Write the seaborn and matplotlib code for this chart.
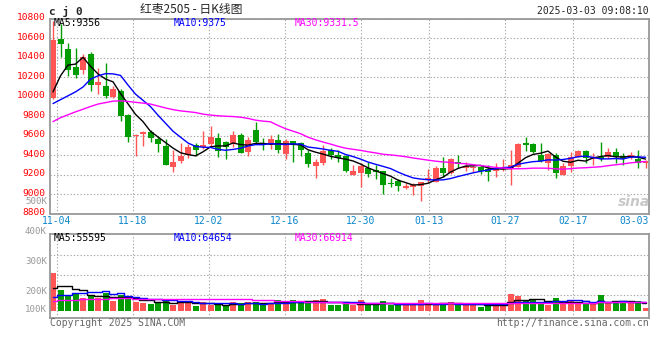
import numpy as np
import pandas as pd
import matplotlib
matplotlib.use("Agg")
import matplotlib.pyplot as plt
import matplotlib.transforms as mtransforms
import seaborn as sns

# ---------------- data ----------------
opens = [9984, 10593, 10494, 10309, 10278, 10439, 10124, 10110, 9998, 10059,
         9813, 9600, 9618, 9635, 9563, 9495, 9282, 9345, 9399, 9505,
         9488, 9519, 9577, 9536, 9522, 9611, 9437, 9659, 9485, 9512,
         9557, 9416, 9546, 9526, 9420, 9293, 9321, 9454, 9403, 9392,
         9201, 9221, 9269, 9249, 9239, 9119, 9139, 9068, 9071, 9088,
         9143, 9122, 9269, 9221, 9331, 9269, 9266, 9276, 9256, 9242,
         9259, 9266, 9283, 9529, 9519, 9403, 9317, 9403, 9201, 9293,
         9386, 9444, 9358, 9386, 9386, 9433, 9392, 9379, 9362, 9324]
highs = [10780, 10743, 10552, 10497, 10439, 10463, 10292, 10343, 10107, 10080,
         9820, 9614, 9652, 9659, 9601, 9565, 9454, 9529, 9516, 9529,
         9649, 9700, 9625, 9550, 9645, 9625, 9591, 9741, 9574, 9608,
         9618, 9563, 9550, 9540, 9454, 9358, 9502, 9474, 9454, 9403,
         9297, 9317, 9331, 9297, 9242, 9170, 9153, 9112, 9112, 9129,
         9259, 9290, 9379, 9369, 9403, 9334, 9290, 9297, 9300, 9324,
         9362, 9454, 9529, 9591, 9529, 9522, 9427, 9420, 9317, 9437,
         9454, 9454, 9420, 9540, 9478, 9471, 9427, 9437, 9454, 9351]
lows = [9975, 10412, 10217, 10196, 10237, 10059, 10028, 9984, 9990, 9751,
        9533, 9389, 9498, 9539, 9437, 9300, 9231, 9317, 9368, 9392,
        9461, 9488, 9386, 9365, 9485, 9420, 9392, 9522, 9454, 9464,
        9420, 9365, 9331, 9392, 9283, 9170, 9303, 9365, 9331, 9232,
        9201, 9071, 9174, 9160, 9003, 9071, 9033, 9051, 8992, 8934,
        9129, 9122, 9174, 9208, 9266, 9235, 9232, 9208, 9139, 9180,
        9242, 9095, 9283, 9447, 9420, 9334, 9249, 9170, 9194, 9232,
        9379, 9324, 9300, 9341, 9369, 9324, 9297, 9358, 9273, 9273]
closes = [10582, 10545, 10271, 10223, 10405, 10121, 10152, 10008, 10080, 9806,
          9591, 9612, 9635, 9580, 9519, 9303, 9330, 9396, 9485, 9454,
          9509, 9587, 9444, 9481, 9608, 9427, 9557, 9536, 9480, 9563,
          9454, 9546, 9516, 9454, 9310, 9331, 9447, 9403, 9375, 9242,
          9239, 9290, 9208, 9225, 9098, 9105, 9085, 9085, 9098, 9122,
          9170, 9266, 9215, 9362, 9310, 9290, 9276, 9242, 9228, 9262,
          9283, 9300, 9519, 9509, 9430, 9345, 9410, 9215, 9290, 9379,
          9447, 9369, 9379, 9358, 9433, 9379, 9365, 9399, 9321, 9338]
volumes_k = [304, 165, 125, 139, 101, 117, 104, 141, 77, 123,
             99, 72, 61, 56, 72, 77, 48, 80, 61, 40,
             72, 43, 45, 45, 69, 61, 69, 72, 53, 53,
             85, 69, 85, 59, 72, 85, 93, 48, 45, 59,
             43, 85, 45, 45, 77, 45, 45, 45, 45, 85,
             61, 45, 61, 69, 61, 45, 45, 29, 61, 61,
             45, 133, 117, 77, 91, 69, 45, 101, 61, 85,
             69, 53, 53, 125, 61, 77, 61, 61, 77, 24]

# moving-average values before a full window exists
ma5_head = [10050, 10215, 10325, 10335]
ma10_head = [9930, 9970, 10010, 10050, 10100, 10180, 10215, 10237, 10235]
ma30_head = [9745, 9785, 9815, 9845, 9872, 9900, 9925, 9940, 9955, 9958,
             9952, 9943, 9935, 9925, 9905, 9885, 9868, 9855, 9847, 9838,
             9822, 9812, 9805, 9800, 9797, 9790, 9778, 9760, 9750]
vma5_head = [179, 197, 195, 171]
vma10_head = [112, 123, 125, 139, 144, 152, 152, 157, 133]
vma30_head = [80, 85, 85, 88, 92, 94, 96, 97, 101, 101,
              98, 91, 91, 91, 91, 91, 91, 91, 91, 91,
              91, 91, 91, 91, 91, 91, 91, 88, 85]

tick_idx = [1, 11, 21, 31, 41, 50, 60, 69, 79]
tick_labels = ["11-04", "11-18", "12-02", "12-16", "12-30", "01-13", "01-27", "02-17", "03-03"]
price_ticks = list(range(8800, 10801, 200))
price_ma_text = ["MA5:9356", "MA10:9375", "MA30:9331.5"]
vol_ma_text = ["MA5:55595", "MA10:64654", "MA30:66914"]
vol_axis_labels = ["500K", "400K", "300K", "200K", "100K"]
title_code = "c j 0"
title_name = "红枣2505 - 日K线图"
timestamp = "2025-03-03 09:08:10"

# ---------------- derived ----------------
n = len(closes)
idx = np.arange(n)
df = pd.DataFrame({"idx": idx, "open": opens, "high": highs, "low": lows,
                   "close": closes, "vol": volumes_k})
def ma(series, w, head):
    m = series.rolling(w).mean().to_numpy()
    m[:len(head)] = head
    return m
df["ma5"] = ma(df["close"], 5, ma5_head)
df["ma10"] = ma(df["close"], 10, ma10_head)
df["ma30"] = ma(df["close"], 30, ma30_head)
df["vma5"] = ma(df["vol"], 5, vma5_head)
df["vma10"] = ma(df["vol"], 10, vma10_head)
df["vma30"] = ma(df["vol"], 30, vma30_head)

RED = "#FF5555"
GREEN = "#009C00"
up = df["close"] >= df["open"]
colors = np.where(up, RED, GREEN)

# ---------------- style ----------------
sns.set_style("white")
plt.rcParams["font.family"] = ["DejaVu Sans Mono", "Noto Sans CJK SC"]
GRID = dict(color="#A8A8A8", lw=0.8, ls=(0, (1.2, 1.8)))

W, H = 660, 360
fig = plt.figure(figsize=(6.6, 3.6), dpi=100)
fig.patch.set_facecolor("white")
def fx(px): return px / W
def fy(py): return 1 - py / H

L, R = 50, 649.3
ax = fig.add_axes([fx(L), fy(213.7), (R - L) / W, (213.7 - 18.8) / H])
axv = fig.add_axes([fx(L), fy(318.3), (R - L) / W, (318.3 - 234.3) / H])

# sina grid spacing is slightly wider than the candle spacing
grid_x = [1.012 * i - 0.48 for i in tick_idx]

for a in (ax, axv):
    a.set_xlim(-0.4, 79.5)
    for s in a.spines.values():
        s.set_color("#999999")
        s.set_linewidth(1.3)
    a.set_axisbelow(True)

# ---- price panel ----
ax.set_ylim(8800, 10800)
ax.set_yticks(price_ticks)
ax.set_yticklabels([str(v) for v in price_ticks])
ax.set_xticks(grid_x)
ax.set_xticklabels(tick_labels)
ax.grid(True, **GRID)
ax.tick_params(axis="y", length=0, pad=3, labelsize=6.8, labelcolor="#FF0000")
ax.tick_params(axis="x", length=0, pad=2, labelsize=7, labelcolor="#0A86CC")
off = mtransforms.ScaledTranslation(0, 1.5 / 72, fig.dpi_scale_trans)
for lab in ax.get_yticklabels():
    lab.set_transform(lab.get_transform() + off)
ax.get_xticklabels()[-1].set_horizontalalignment("right")

body_bottom = np.minimum(df["open"], df["close"])
body_h = np.maximum(np.abs(df["close"] - df["open"]), 9)
ax.vlines(df["idx"], df["low"], df["high"], colors=colors, lw=1.0, zorder=2)
ax.bar(df["idx"], body_h, bottom=body_bottom, width=0.8, color=colors,
       linewidth=0, zorder=2.2)

sns.lineplot(data=df, x="idx", y="ma5", ax=ax, color="black", lw=1.0, zorder=3, legend=False)
sns.lineplot(data=df, x="idx", y="ma10", ax=ax, color="#0000FF", lw=1.0, zorder=3, legend=False)
sns.lineplot(data=df, x="idx", y="ma30", ax=ax, color="#FF00FF", lw=1.0, zorder=3, legend=False)
ax.set_xlabel("")
ax.set_ylabel("")

# ---- volume panel ----
axv.set_ylim(-61, 611)
axv.set_yticks([123, 286, 446])
axv.set_yticklabels([])
axv.set_xticks(grid_x)
axv.set_xticklabels([])
axv.tick_params(length=0)
axv.grid(True, **GRID)
axv.bar(df["idx"], df["vol"], width=0.8, color=colors, linewidth=0, zorder=2)
sns.lineplot(data=df, x="idx", y="vma5", ax=axv, color="black", lw=1.0, zorder=3,
             legend=False, drawstyle="steps-mid")
sns.lineplot(data=df, x="idx", y="vma10", ax=axv, color="#0000FF", lw=1.0, zorder=3,
             legend=False, drawstyle="steps-mid")
sns.lineplot(data=df, x="idx", y="vma30", ax=axv, color="#FF00FF", lw=1.0, zorder=3,
             legend=False, drawstyle="steps-mid")
axv.set_xlabel("")
axv.set_ylabel("")

# ---- texts ----
mono = "DejaVu Sans Mono"
fig.text(fx(49), fy(11), title_code, ha="left", va="center", fontsize=8,
         fontweight="bold", family=mono)
fig.text(fx(140), fy(10), title_name, ha="left", va="center", fontsize=8.5,
         family=["Noto Sans CJK SC", "DejaVu Sans"])
fig.text(fx(649), fy(11.5), timestamp, ha="right", va="center", fontsize=7, family=mono)

ma_cols = ["black", "#0000FF", "#FF00FF"]
ma_x = [54, 174, 295]
for t, c, x in zip(price_ma_text, ma_cols, ma_x):
    fig.text(fx(x), fy(23.5), t, ha="left", va="center", fontsize=7, color=c, family=mono)
for t, c, x in zip(vol_ma_text, ma_cols, ma_x):
    fig.text(fx(x), fy(238), t, ha="left", va="center", fontsize=7, color=c, family=mono)

for t, y in zip(vol_axis_labels, [202, 231, 261, 291, 310]):
    fig.text(fx(47), fy(y), t, ha="right", va="center", fontsize=6.6, color="#999999", family=mono)

fig.text(fx(50), fy(323), "Copyright 2025 SINA.COM", ha="left", va="center",
         fontsize=7, color="#666666", family=mono)
fig.text(fx(649), fy(323), "http://finance.sina.com.cn", ha="right", va="center",
         fontsize=7, color="#666666", family=mono)
fig.text(fx(650), fy(202), "sina", ha="right", va="center", fontsize=10,
         fontweight="bold", fontstyle="italic", color="#C8C8C8", family="DejaVu Sans")

fig.savefig("out.png", dpi=100)
